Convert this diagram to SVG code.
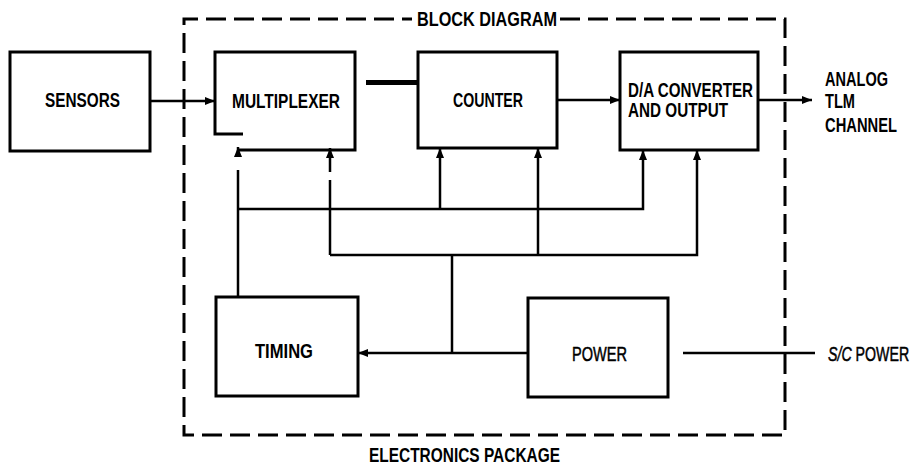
<svg xmlns="http://www.w3.org/2000/svg" width="921" height="465" viewBox="0 0 921 465">
<defs>
<marker id="ah" viewBox="0 0 10 8" refX="10" refY="4" markerWidth="10" markerHeight="8" markerUnits="userSpaceOnUse" orient="auto">
<path d="M0,0 L10,4 L0,8 Z" fill="#000"/>
</marker>
</defs>
<style>
.box{fill:#fff;stroke:#000;stroke-width:3}
.open{fill:none;stroke:#000;stroke-width:3}
.ln{fill:none;stroke:#000;stroke-width:2.5}
.bnd{fill:none;stroke:#000;stroke-width:3;stroke-dasharray:20 8}
.t{font-family:"Liberation Sans",Arial,sans-serif;font-size:20px;font-weight:bold;fill:#000}
.r{font-family:"Liberation Sans",Arial,sans-serif;font-size:20px;font-weight:normal;fill:#000;stroke:#000;stroke-width:0.5}
</style>
<rect width="921" height="465" fill="#fff"/>
<g id="boundary">
<path class="bnd" d="M560,19 H785 V435 H184 V19 H412"/>
<text class="t" x="417" y="26" textLength="140" lengthAdjust="spacingAndGlyphs">BLOCK DIAGRAM</text>
<text class="t" x="369" y="462" textLength="191" lengthAdjust="spacingAndGlyphs">ELECTRONICS PACKAGE</text>
</g>
<g id="sensors">
<rect class="box" x="10" y="52" width="140" height="99"/>
<text class="t" x="45" y="107" textLength="75" lengthAdjust="spacingAndGlyphs">SENSORS</text>
</g>
<g id="multiplexer">
<path class="open" d="M243,134 H215 V52 H355 V150 H238"/>
<text class="t" x="232" y="108" textLength="108" lengthAdjust="spacingAndGlyphs">MULTIPLEXER</text>
</g>
<g id="counter">
<rect class="box" x="418" y="52" width="139" height="96"/>
<text class="t" x="453" y="107" textLength="70" lengthAdjust="spacingAndGlyphs">COUNTER</text>
</g>
<g id="da">
<rect class="box" x="620" y="52" width="138" height="98"/>
<text class="t" x="628" y="97" textLength="125" lengthAdjust="spacingAndGlyphs">D/A CONVERTER</text>
<text class="t" x="628" y="117" textLength="100" lengthAdjust="spacingAndGlyphs">AND OUTPUT</text>
</g>
<g id="timing">
<rect class="box" x="216" y="297" width="142" height="99"/>
<text class="t" x="255" y="358" textLength="58" lengthAdjust="spacingAndGlyphs">TIMING</text>
</g>
<g id="power">
<rect class="box" x="528" y="298" width="140" height="99"/>
<text class="r" x="572" y="361" textLength="55" lengthAdjust="spacingAndGlyphs">POWER</text>
</g>
<g id="labels">
<text class="t" x="825" y="86" textLength="63" lengthAdjust="spacingAndGlyphs">ANALOG</text>
<text class="t" x="825" y="108" textLength="30" lengthAdjust="spacingAndGlyphs">TLM</text>
<text class="t" x="825" y="132" textLength="72" lengthAdjust="spacingAndGlyphs">CHANNEL</text>
<text class="r" transform="translate(828,361) scale(0.71,1)"><tspan font-style="italic">S/C</tspan> POWER</text>
</g>
<g id="connectors">
<path class="ln" d="M150,101 H215" marker-end="url(#ah)"/>
<path class="ln" d="M557,100 H620" marker-end="url(#ah)"/>
<path class="ln" d="M758,100 H812" marker-end="url(#ah)"/>
<rect x="366" y="80" width="52" height="5" fill="#000"/>
<path class="ln" d="M238,297 V170"/>
<path class="ln" d="M238,156 V147" marker-end="url(#ah)"/>
<path class="ln" d="M330,255 V180"/>
<path class="ln" d="M330,172 V148" marker-end="url(#ah)"/>
<path class="ln" d="M238,209 H643 V150" marker-end="url(#ah)"/>
<path class="ln" d="M440,209 V148" marker-end="url(#ah)"/>
<path class="ln" d="M538,255 V148" marker-end="url(#ah)"/>
<path class="ln" d="M330,255 H697 V150" marker-end="url(#ah)"/>
<path class="ln" d="M452,255 V353"/>
<path class="ln" d="M528,353 H358" marker-end="url(#ah)"/>
<path class="ln" d="M683,353 H815"/>
</g>
</svg>
